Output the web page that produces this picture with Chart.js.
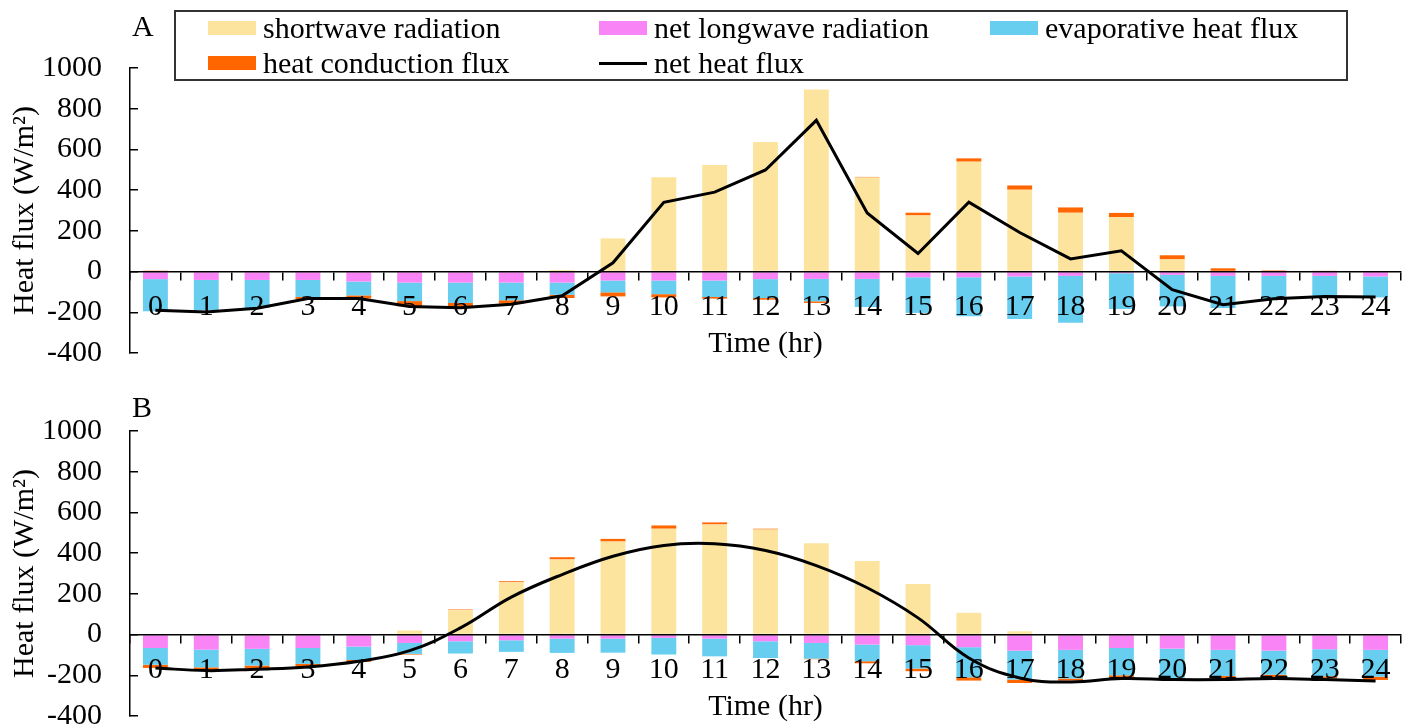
<!DOCTYPE html>
<html>
<head>
<meta charset="utf-8">
<script src="https://cdn.jsdelivr.net/npm/chart.js@4"></script>
<style>
body { margin: 0; background: #fff; font-family: "Liberation Serif", serif; color: #000; }
.panel { position: relative; width: 1411px; height: 363px; }
.tag { position: absolute; left: 132px; font-size: 30px; line-height: 30px; }
#legend { position: absolute; left: 174px; top: 10px; width: 1170px; height: 67px; border: 2px solid #333; background: #fff; }
.item { position: absolute; display: flex; align-items: center; height: 34px; font-size: 30px; white-space: nowrap; }
.sw { width: 48px; height: 14px; margin-right: 7px; }
.ln { width: 48px; height: 3px; margin-right: 7px; background: #000; }
</style>
</head>
<body>
<div class="panel">
  <canvas id="chartA" width="1411" height="363"></canvas>
  <div class="tag" style="top:11px">A</div>
  <div id="legend"></div>
</div>
<div class="panel">
  <canvas id="chartB" width="1411" height="363"></canvas>
  <div class="tag" style="top:29px">B</div>
</div>
<script>
const hours = ['0', '1', '2', '3', '4', '5', '6', '7', '8', '9', '10', '11', '12',
    '13', '14', '15', '16', '17', '18', '19', '20', '21', '22', '23', '24'];

const seriesNames = ['shortwave radiation', 'net longwave radiation', 'evaporative heat flux',
    'heat conduction flux', 'net heat flux'];
const seriesColors = ['#FDE49E', '#F884F5', '#68CEF0', '#FF6600', '#000000'];

const yMin = -400;
const yMax = 1000;
const yStep = 200;

// panel A
const shortwaveA = [0, 0, 0, 0, 0, 0, 0, 0, 8, 163, 463, 524, 637, 894, 462, 276, 540, 402, 289, 267, 60, 0, 0, 0, 0];
const longwaveA = [-37, -41, -41, -41, -49, -54, -54, -54, -54, -44, -44, -44, -37, -36, -36, -28, -28, -24, -21, -8, -16, -21, -21, -21, -24];
const evaporativeA = [-158, -149, -138, -84, -68, -91, -100, -87, -60, -58, -67, -81, -93, -110, -138, -175, -192, -209, -231, -176, -155, -158, -117, -104, -103];
const conductionA = [5, 0, 0, -10, -15, -26, -20, -17, -16, -20, -16, -8, -8, -8, 3, 13, 16, 21, 26, 21, 20, 16, 6, 3, 0];
const netA = [-190, -198, -180, -132, -132, -172, -178, -160, -119, 43, 340, 390, 499, 743, 288, 89, 341, 192, 62, 102, -89, -163, -133, -122, -125];

// panel B
const shortwaveB = [0, 0, 0, 0, 0, 20, 120, 257, 369, 457, 520, 541, 516, 449, 361, 249, 107, 16, 0, 0, 0, 0, 0, 0, 0];
const longwaveB = [-66, -74, -70, -66, -59, -41, -33, -28, -20, -20, -16, -20, -33, -41, -49, -52, -62, -79, -75, -66, -69, -75, -79, -72, -75];
const evaporativeB = [-82, -87, -82, -78, -66, -54, -60, -57, -70, -69, -82, -87, -82, -77, -82, -115, -148, -142, -141, -134, -144, -128, -118, -133, -132];
const conductionB = [-16, -13, -15, -15, -9, -3, 3, 5, 11, 13, 16, 10, 4, -3, -10, -13, -16, -17, -10, -10, -8, -13, -13, -11, -16];
const netB = [-164, -177, -170, -159, -131, -79, 33, 184, 295, 385, 438, 446, 413, 339, 230, 82, -115, -213, -233, -216, -221, -221, -216, -221, -228];

Chart.defaults.font.family = '"Liberation Serif", "Times New Roman", serif';
Chart.defaults.font.size = 30;
Chart.defaults.color = '#000';

// legend drawn as html, three columns like the figure
const legendEl = document.getElementById('legend');
seriesNames.forEach((name, i) => {
    const item = document.createElement('div');
    item.className = 'item';
    item.style.left = (32 + (i % 3) * 391) + 'px';
    item.style.top = (i < 3 ? -1 : 34) + 'px';
    const mark = document.createElement('span');
    if (i === 4) {
        mark.className = 'ln';
    } else {
        mark.className = 'sw';
        mark.style.background = seriesColors[i];
    }
    item.appendChild(mark);
    item.appendChild(document.createTextNode(name));
    legendEl.appendChild(item);
});

const timeTitle = {
    id: 'timeTitle',
    afterDraw(chart) {
        const {ctx, chartArea} = chart;
        ctx.save();
        ctx.font = '30px "Liberation Serif"';
        ctx.fillStyle = '#000';
        ctx.textAlign = 'center';
        ctx.textBaseline = 'middle';
        ctx.fillText('Time (hr)', (chartArea.left + chartArea.right) / 2, chartArea.bottom - 9);
        ctx.restore();
    }
};

function makePanel(id, shortwave, longwave, evaporative, conduction, net, tension) {
    const bars = [shortwave, longwave, evaporative, conduction].map((data, i) => ({
        label: seriesNames[i],
        data: data,
        backgroundColor: seriesColors[i],
        borderWidth: 0,
        barPercentage: 0.5,
        categoryPercentage: 0.98,
        order: 1
    }));
    return new Chart(document.getElementById(id).getContext('2d'), {
        type: 'bar',
        data: {
            labels: hours,
            datasets: [{
                type: 'line',
                label: seriesNames[4],
                data: net,
                borderColor: '#000',
                borderWidth: 3,
                pointRadius: 0,
                tension: tension,
                stack: 'net',
                order: 0
            }].concat(bars)
        },
        options: {
            responsive: false,
            animation: false,
            layout: {
                padding: { top: 68, right: 10, bottom: 10, left: 0 }
            },
            plugins: {
                legend: { display: false },
                tooltip: { enabled: false }
            },
            scales: {
                x: {
                    stacked: true,
                    position: { y: 0 },
                    grid: { offset: true, drawOnChartArea: false, tickLength: 8, color: '#000', lineWidth: 1.5, z: 1 },
                    border: { color: '#000', width: 1.5, z: 1 },
                    ticks: { autoSkip: false, maxRotation: 0, padding: 10, z: 1 },
                    afterFit: (scale) => {
                        scale.height = 0;
                        scale.paddingLeft = 0;
                        scale.paddingRight = 0;
                    }
                },
                y: {
                    stacked: true,
                    min: yMin,
                    max: yMax,
                    grid: { drawOnChartArea: false, tickLength: -8, color: '#000', lineWidth: 1.5 },
                    border: { color: '#000', width: 1.5 },
                    ticks: {
                        stepSize: yStep,
                        padding: 36,
                        callback: (v) => String(v)
                    },
                    title: {
                        display: true,
                        text: 'Heat flux (W/m²)',
                        padding: { top: 7, bottom: 0 }
                    },
                    afterFit: (scale) => {
                        scale.width = 130;
                        scale.paddingTop = 0;
                        scale.paddingBottom = 0;
                    }
                }
            }
        },
        plugins: [timeTitle]
    });
}

const chartA = makePanel('chartA', shortwaveA, longwaveA, evaporativeA, conductionA, netA, 0);
const chartB = makePanel('chartB', shortwaveB, longwaveB, evaporativeB, conductionB, netB, 0.4);
</script>
</body>
</html>
